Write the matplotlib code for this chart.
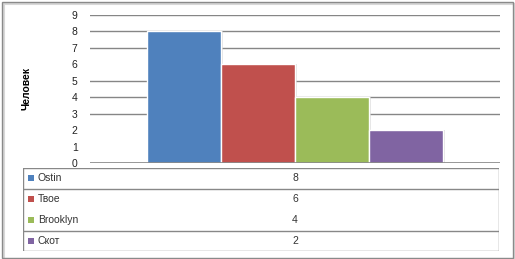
import matplotlib
matplotlib.use("Agg")
import matplotlib.pyplot as plt
from matplotlib.patches import Rectangle
from matplotlib.lines import Line2D

series = ["Ostin", "Твое", "Brooklyn", "Скот"]
values = [8, 6, 4, 2]
colors = ["#4F81BD", "#C0504D", "#9BBB59", "#8064A2"]
yticks = list(range(0, 10))
grid_levels = [3, 4, 5, 7, 8, 9]
ylabel = "Человек"

W, H = 515, 259
plt.rcParams['font.family'] = ['Liberation Sans', 'DejaVu Sans']
fig = plt.figure(figsize=(W / 100, H / 100), dpi=100)

def fx(px):
    return px / W

def fy(py):
    return 1 - py / H

# outer border with shadow
fig.add_artist(Rectangle((fx(3.5), fy(259)), fx(511), (259 - 3.5) / H,
                         transform=fig.transFigure, facecolor="none", edgecolor="#d8d8d8", lw=1.5, zorder=-2))
fig.add_artist(Rectangle((fx(1.5), fy(257.5)), fx(511), (257.5 - 1.5) / H,
                         transform=fig.transFigure, facecolor="none", edgecolor="#8a8a8a", lw=1, zorder=-1))

# plot area
L, R, T, B = 90, 500, 15, 163
ax = fig.add_axes([fx(L), fy(B), fx(R - L), (B - T) / H])
ax.set_xlim(-205, 205)
ax.set_ylim(0, 9)
bw = 74
centers = [-111, -37, 37, 111]
for lv in grid_levels:
    ax.axhline(lv, color="#868686", lw=1, zorder=0)
for c, v, col in zip(centers, values, colors):
    ax.bar(c + 2, v, width=bw, bottom=0, color="#d0d0d0", alpha=0.6, zorder=1, linewidth=0)
    ax.bar(c, v, width=bw, color=col, edgecolor="white", linewidth=1, zorder=2)
ax.axhline(0, color="#868686", lw=1.2, zorder=3)
ax.set_yticks(yticks)
ax.set_yticklabels([str(t) for t in yticks], fontsize=7.5, color="#222222", ha="center")
ax.set_xticks([])
ax.tick_params(axis="y", length=0, pad=11)
for s in ax.spines.values():
    s.set_visible(False)
ax.patch.set_alpha(0)
fig.text(fx(26), fy(88), ylabel, rotation=90, fontsize=7.5, fontweight="bold",
         ha="center", va="center")

# data table
TL, TR, TT, TB = 23, 499, 168, 251
tax = fig.add_axes([fx(TL), fy(TB), fx(TR - TL), (TB - TT) / H])
tax.set_xlim(TL, TR)
tax.set_ylim(TB, TT)
tax.axis("off")
row_edges = [168, 189, 210, 231, 251]
drawn = [168, 189, 231, 251]
gc = "#888888"
for y in drawn:
    tax.add_line(Line2D([TL, TR], [y, y], color=gc, lw=1))
tax.add_line(Line2D([TL, TL], [TT, TB], color=gc, lw=1))
tax.add_line(Line2D([TR, TR], [TT, TB], color=gc, lw=1))
for i, (name, v, col) in enumerate(zip(series, values, colors)):
    yc = (row_edges[i] + row_edges[i + 1]) / 2
    tax.add_patch(Rectangle((28, yc - 3), 6, 6, facecolor=col, edgecolor="none"))
    tax.text(38, yc, name, fontsize=7.5, va="center", ha="left", color="#333333")
    tax.text(295, yc, str(v), fontsize=7.5, va="center", ha="center", color="#333333")

fig.savefig("out.png", dpi=100)
